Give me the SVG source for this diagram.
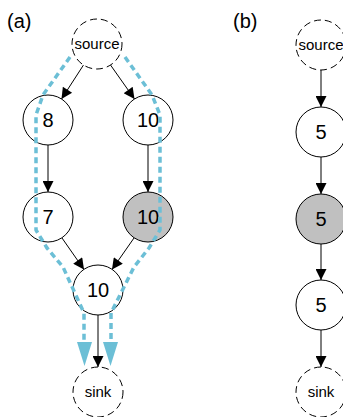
<svg xmlns="http://www.w3.org/2000/svg" width="343" height="417" viewBox="0 0 343 417">
<style>
  .node { fill: #ffffff; stroke: #000000; stroke-width: 1; }
  .hl { fill: #c0c0c0; }
  .term { fill: #ffffff; stroke: #000000; stroke-width: 1; stroke-dasharray: 7 4; }
  .num { font-family: "Liberation Sans", Arial, sans-serif; font-size: 20px; text-anchor: middle; fill: #000; }
  .lbl { font-family: "Liberation Sans", Arial, sans-serif; font-size: 15px; text-anchor: middle; fill: #000; }
  .panel { font-family: "Liberation Sans", Arial, sans-serif; font-size: 20px; fill: #000; }
  .edge { stroke: #000; stroke-width: 1; fill: none; marker-end: url(#ah); }
  .flow { stroke: #6cbfd6; stroke-width: 3.5; stroke-dasharray: 6 4; fill: none; stroke-linejoin: round; }
</style>
<defs>
  <marker id="ah" viewBox="0 0 10 10" refX="10" refY="5" markerUnits="userSpaceOnUse" markerWidth="15" markerHeight="11" orient="auto">
    <path d="M0,0 L10,5 L0,10 z" fill="#000"/>
  </marker>
</defs>

<text class="panel" x="7" y="28">(a)</text>
<text class="panel" x="233" y="28">(b)</text>

<g id="connectors">
  <line class="edge" x1="83.5" y1="65" x2="61.5" y2="99"/>
  <line class="edge" x1="110.5" y1="65" x2="134.5" y2="99"/>
  <line class="edge" x1="48" y1="145" x2="48" y2="192"/>
  <line class="edge" x1="148" y1="145" x2="148" y2="192"/>
  <line class="edge" x1="62" y1="238" x2="84" y2="269.5"/>
  <line class="edge" x1="134" y1="238" x2="112" y2="269.5"/>
  <line class="edge" x1="98" y1="315" x2="98" y2="367"/>
  <line class="edge" x1="321" y1="70" x2="321" y2="107"/>
  <line class="edge" x1="321" y1="157" x2="321" y2="194"/>
  <line class="edge" x1="321" y1="244" x2="321" y2="280"/>
  <line class="edge" x1="321" y1="330" x2="321" y2="367"/>
</g>

<g id="a-source"><circle class="term" cx="97" cy="44" r="25"/><text class="lbl" x="97" y="49">source</text></g>
<g id="a-n8"><circle class="node" cx="48" cy="120" r="25"/><text class="num" x="48" y="127">8</text></g>
<g id="a-n10top"><circle class="node" cx="148" cy="120" r="25"/><text class="num" x="148" y="127">10</text></g>
<g id="a-n7"><circle class="node" cx="48" cy="217" r="25"/><text class="num" x="48" y="224">7</text></g>
<g id="a-n10gray"><circle class="node hl" cx="148" cy="217" r="25"/><text class="num" x="148" y="224">10</text></g>
<g id="a-n10bot"><circle class="node" cx="98" cy="290" r="25"/><text class="num" x="98" y="297">10</text></g>
<g id="a-sink"><circle class="term" cx="98" cy="392" r="25"/><text class="lbl" x="98" y="397">sink</text></g>

<g id="b-source"><circle class="term" cx="321" cy="45" r="25"/><text class="lbl" x="321" y="50">source</text></g>
<g id="b-n5a"><circle class="node" cx="321" cy="132" r="25"/><text class="num" x="321" y="139">5</text></g>
<g id="b-n5gray"><circle class="node hl" cx="321" cy="219" r="25"/><text class="num" x="321" y="226">5</text></g>
<g id="b-n5b"><circle class="node" cx="321" cy="305" r="25"/><text class="num" x="321" y="312">5</text></g>
<g id="b-sink"><circle class="term" cx="321" cy="392" r="25"/><text class="lbl" x="321" y="397">sink</text></g>

<g id="flows">
  <path class="flow" d="M70,57 L43,95 L36,115 L36,230 L47,248 L63,267 L84,313 L84,342"/>
  <path class="flow" d="M125,57 L152,95 L160,115 L160,230 L149,248 L134,267 L111,313 L111,342"/>
  <polygon points="77,342 92,342 84.5,366" fill="#6cbfd6"/>
  <polygon points="103,342 118,342 110.5,366" fill="#6cbfd6"/>
</g>
</svg>
